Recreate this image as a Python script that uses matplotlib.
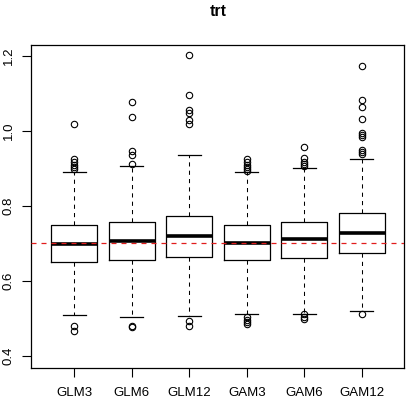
import matplotlib
matplotlib.use("Agg")
import matplotlib.pyplot as plt

# ============================================================================
# DATA
# ============================================================================

MODELS = ["GLM3", "GLM6", "GLM12", "GAM3", "GAM6", "GAM12"]

Q1 = [0.650, 0.655, 0.663, 0.655, 0.660, 0.674]
MEDIANS = [0.698, 0.707, 0.720, 0.701, 0.711, 0.728]
Q3 = [0.748, 0.756, 0.772, 0.748, 0.758, 0.780]
WHISKER_LOW = [0.509, 0.503, 0.508, 0.512, 0.513, 0.520]
WHISKER_HIGH = [0.890, 0.905, 0.935, 0.890, 0.900, 0.924]

FLIERS = [
    [1.019, 0.924, 0.917, 0.910, 0.903, 0.897, 0.480, 0.467],
    [1.077, 1.038, 0.945, 0.936, 0.912, 0.479, 0.477],
    [1.203, 1.095, 1.054, 1.048, 1.030, 1.018, 0.493, 0.479],
    [0.924, 0.917, 0.910, 0.903, 0.897, 0.892, 0.504, 0.497, 0.490, 0.485],
    [0.958, 0.927, 0.918, 0.911, 0.905, 0.512, 0.505, 0.498],
    [1.172, 1.083, 1.063, 1.031, 0.994, 0.989, 0.984, 0.949, 0.943, 0.937, 0.513],
]

REFERENCE_LINE = 0.7
TITLE = "trt"
Y_TICKS = [0.4, 0.6, 0.8, 1.0, 1.2]

# ============================================================================
# PLOT
# ============================================================================

plt.rcParams['font.family'] = ['Liberation Sans', 'DejaVu Sans']

W, H = 410, 398
fig = plt.figure(figsize=(W / 100, H / 100), dpi=100)
ax = fig.add_axes([31.5 / W, (H - 367.8) / H, (404.5 - 31.5) / W, (367.8 - 44.5) / H])

stats = []
for i, name in enumerate(MODELS):
    stats.append({
        'label': name,
        'med': MEDIANS[i],
        'q1': Q1[i],
        'q3': Q3[i],
        'whislo': WHISKER_LOW[i],
        'whishi': WHISKER_HIGH[i],
        'fliers': FLIERS[i],
    })

positions = list(range(1, len(MODELS) + 1))
ax.bxp(
    stats, positions=positions, widths=0.8, showfliers=True,
    boxprops=dict(color='black', linewidth=0.9),
    medianprops=dict(color='black', linewidth=2.6, solid_capstyle='butt'),
    whiskerprops=dict(color='black', linewidth=0.75, linestyle=(0, (4, 4))),
    capprops=dict(color='black', linewidth=0.9),
    capwidths=0.4,
    flierprops=dict(marker='o', markerfacecolor='none', markeredgecolor='black',
                    markersize=4.6, markeredgewidth=0.8, linestyle='none'),
)

# dashed reference line drawn on top of the boxes
ax.axhline(REFERENCE_LINE, color='#e01c1c', linewidth=0.9, linestyle=(0, (4, 4)), zorder=5)

ax.set_xlim(0.26, 6.74)
ax.set_ylim(0.369, 1.2297)
ax.set_xticks(positions)
ax.set_xticklabels(MODELS, fontsize=9.5)
ax.set_yticks(Y_TICKS)
ax.set_yticklabels([f"{v:.1f}" for v in Y_TICKS], fontsize=9.5, rotation=90, va='center')
ax.tick_params(axis='x', length=6.5, width=0.8, pad=7.5)
ax.tick_params(axis='y', length=6.5, width=0.8, pad=5.5)
for spine in ax.spines.values():
    spine.set_linewidth(0.9)

fig.text((31.5 + 404.5) / 2 / W, 1 - 11.5 / H, TITLE, ha='center', va='center',
         fontsize=11.4, fontweight='bold')

fig.savefig("out.png", dpi=100)
plt.close(fig)
